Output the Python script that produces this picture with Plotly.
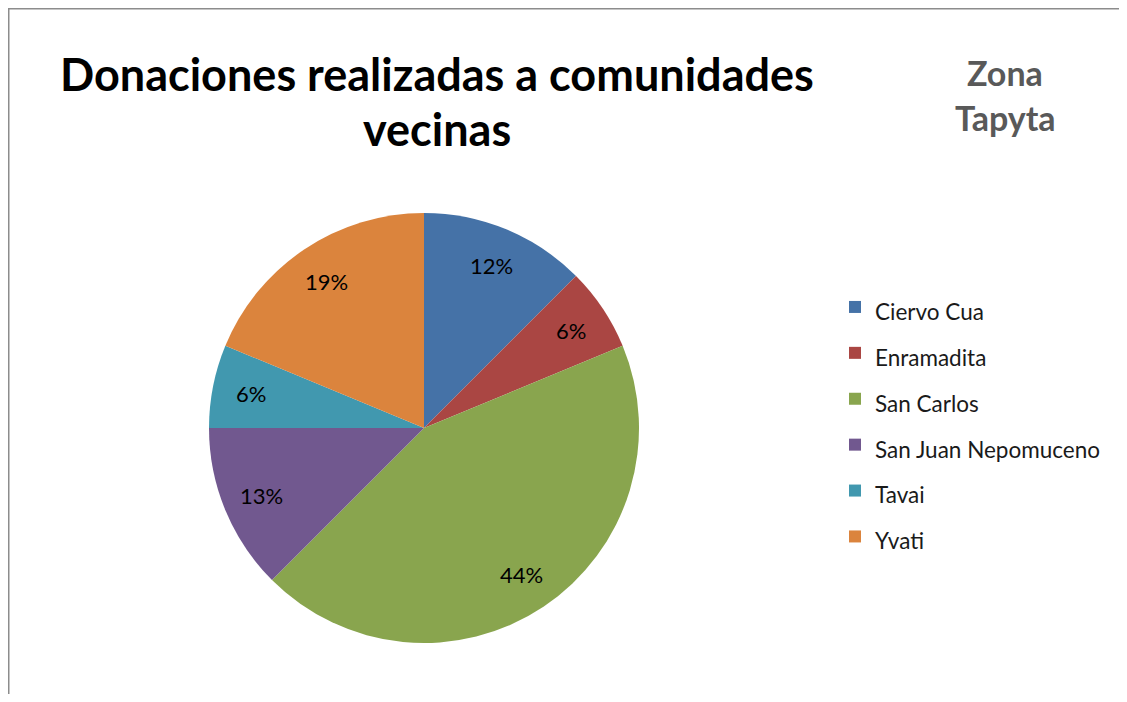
import math
import plotly.graph_objects as go

categories = ["Ciervo Cua", "Enramadita", "San Carlos", "San Juan Nepomuceno", "Tavai", "Yvati"]
values = [2, 1, 7, 2, 1, 3]
pct_labels = ["12%", "6%", "44%", "13%", "6%", "19%"]
colors = ["#4572A7", "#AA4643", "#89A54E", "#71588F", "#4198AF", "#DB843D"]

# page body has an 8px margin on every side
OFF = 8
W, H = 1127 - 2 * OFF, 702 - 2 * OFF
cx, cy, R = 424 - OFF, 428 - OFF, 215  # pie centre / radius in figure pixels


def px(x):
    return (x - OFF) / W


def py(y):
    return 1 - (y - OFF) / H


fig = go.Figure()
fig.add_trace(go.Pie(
    labels=[f'<span style="font-size:22.5px">{c}</span>' for c in categories],
    values=values,
    sort=False,
    direction="clockwise",
    rotation=0,
    marker=dict(colors=colors, line=dict(width=0)),
    textinfo="none",
    hoverinfo="label+percent",
    domain=dict(x=[(cx - R) / W, (cx + R) / W], y=[1 - (cy + R) / H, 1 - (cy - R) / H]),
))

# percentage labels positioned from the data (inside end, ~0.82 R)
total = sum(values)
cum = 0
annotations = []
for v, t in zip(values, pct_labels):
    mid = (cum + v / 2) / total * 2 * math.pi
    cum += v
    lx = cx + 0.82 * R * math.sin(mid)
    ly = cy - 0.82 * R * math.cos(mid)
    annotations.append(dict(x=lx / W, y=1 - ly / H, xref="paper", yref="paper", text=t,
                            showarrow=False, font=dict(family="Lato", size=22, color="#000000"),
                            xanchor="center", yanchor="middle"))

annotations += [
    dict(x=px(437), y=py(74), xref="paper", yref="paper", text="<b>Donaciones realizadas a comunidades</b>",
         showarrow=False, font=dict(family="Lato", size=45, color="#000000"), xanchor="center", yanchor="middle"),
    dict(x=px(437), y=py(129), xref="paper", yref="paper", text="<b>vecinas</b>",
         showarrow=False, font=dict(family="Lato", size=45, color="#000000"), xanchor="center", yanchor="middle"),
    dict(x=px(1005), y=py(73), xref="paper", yref="paper", text="<b>Zona</b>",
         showarrow=False, font=dict(family="Lato", size=34, color="#595959"), xanchor="center", yanchor="middle"),
    dict(x=px(1005), y=py(118), xref="paper", yref="paper", text="<b>Tapyta</b>",
         showarrow=False, font=dict(family="Lato", size=34, color="#595959"), xanchor="center", yanchor="middle"),
]

fig.update_layout(
    width=W, height=H,
    margin=dict(l=0, r=0, t=0, b=0),
    paper_bgcolor="white",
    plot_bgcolor="white",
    showlegend=True,
    legend=dict(x=827 / W, y=1 - 271 / H, xanchor="left", yanchor="top",
                font=dict(family="Lato", size=33, color="#1a1a1a"),
                bgcolor="rgba(0,0,0,0)"),
    annotations=annotations,
    shapes=[
        dict(type="line", xref="paper", yref="paper", x0=0, x1=1, y0=1, y1=1,
             line=dict(color="#8c8c8c", width=3)),
        dict(type="line", xref="paper", yref="paper", x0=0, x1=0, y0=0, y1=1,
             line=dict(color="#8c8c8c", width=3)),
    ],
)

fig.write_html("out.html")
